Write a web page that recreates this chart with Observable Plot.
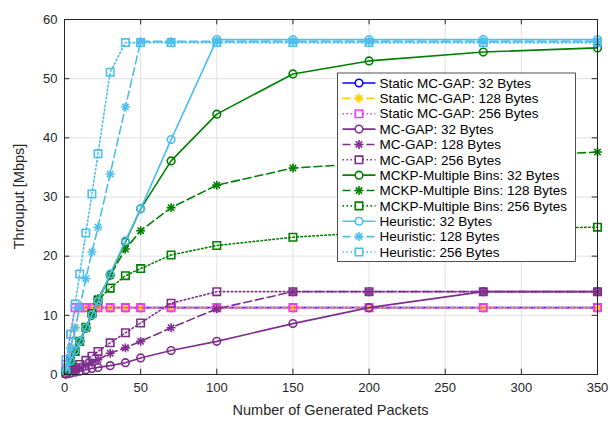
<!DOCTYPE html>
<html>
<head>
<meta charset="utf-8">
<script src="https://cdn.jsdelivr.net/npm/d3@7"></script>
<script src="https://cdn.jsdelivr.net/npm/@observablehq/plot@0.6"></script>
<style>
  html, body { margin: 0; padding: 0; background: white; }
  #chart { width: 610px; height: 421px; }
</style>
</head>
<body>
<div id="chart"></div>
<script>
// ---- data ----
const xs = [1, 4, 7, 10, 14, 18, 22, 30, 40, 50, 70, 100, 150, 200, 275, 350];
const xTicks = [0, 50, 100, 150, 200, 250, 300, 350];
const yTicks = [0, 10, 20, 30, 40, 50, 60];
const xLabel = "Number of Generated Packets";
const yLabel = "Throuput [Mbps]";

const staticMcgap32  = [0.56, 2.3, 4.0, 5.6, 7.9, 10.1, 11.3, 11.3, 11.3, 11.3, 11.3, 11.3, 11.3, 11.3, 11.3, 11.3];
const staticMcgap128 = [1.1, 4.5, 7.9, 11.3, 11.3, 11.3, 11.3, 11.3, 11.3, 11.3, 11.3, 11.3, 11.3, 11.3, 11.3, 11.3];
const staticMcgap256 = [1.7, 6.8, 11.3, 11.3, 11.3, 11.3, 11.3, 11.3, 11.3, 11.3, 11.3, 11.3, 11.3, 11.3, 11.3, 11.3];
const mcgap32  = [0.06, 0.22, 0.39, 0.56, 0.79, 1.0, 1.2, 1.5, 2.0, 2.8, 4.05, 5.6, 8.6, 11.3, 14.0, 14.0];
const mcgap128 = [0.11, 0.45, 0.79, 1.1, 1.6, 2.0, 2.5, 3.6, 4.5, 5.6, 7.9, 11.1, 14.0, 14.0, 14.0, 14.0];
const mcgap256 = [0.17, 0.7, 1.2, 1.7, 2.4, 3.1, 3.9, 5.35, 7.05, 8.7, 12.05, 14.0, 14.0, 14.0, 14.0, 14.0];
const mckp32  = [0.56, 2.2, 3.9, 5.6, 7.8, 10.0, 12.3, 16.8, 22.4, 28.0, 36.1, 44.0, 50.8, 53.0, 54.5, 55.2];
const mckp128 = [0.56, 2.2, 3.9, 5.6, 7.9, 10.1, 12.8, 16.7, 21.2, 24.3, 28.2, 32.0, 34.9, 35.7, 36.6, 37.6];
const mckp256 = [0.56, 2.2, 3.9, 5.6, 8.0, 10.3, 12.6, 14.6, 16.7, 17.9, 20.2, 21.8, 23.2, 24.0, 24.6, 24.9];
const heur32  = [0.56, 2.3, 4.0, 5.6, 7.9, 10.1, 12.4, 17.0, 22.6, 28.0, 39.7, 56.6, 56.6, 56.6, 56.6, 56.6];
const heur128 = [1.1, 4.5, 7.9, 11.3, 16.2, 20.7, 24.9, 33.9, 45.2, 56.3, 56.3, 56.3, 56.3, 56.3, 56.3, 56.3];
const heur256 = [2.5, 6.8, 11.9, 17.0, 23.9, 30.5, 37.3, 51.1, 56.1, 56.1, 56.1, 56.1, 56.1, 56.1, 56.1, 56.1];

const seriesNames = [
  "Static MC-GAP: 32 Bytes", "Static MC-GAP: 128 Bytes", "Static MC-GAP: 256 Bytes",
  "MC-GAP: 32 Bytes", "MC-GAP: 128 Bytes", "MC-GAP: 256 Bytes",
  "MCKP-Multiple Bins: 32 Bytes", "MCKP-Multiple Bins: 128 Bytes", "MCKP-Multiple Bins: 256 Bytes",
  "Heuristic: 32 Bytes", "Heuristic: 128 Bytes", "Heuristic: 256 Bytes"
];
const seriesValues = [staticMcgap32, staticMcgap128, staticMcgap256, mcgap32, mcgap128, mcgap256,
  mckp32, mckp128, mckp256, heur32, heur128, heur256];

// ---- styles ----
const groupColors = ["#0000ff", "#ffd000", "#ff33ff", "#7e2f8e", "#7e2f8e", "#7e2f8e",
  "#008000", "#008000", "#008000", "#4dbeee", "#4dbeee", "#4dbeee"];
const dashes = ["none", "8,4", "1.5,2.5"];
const markerKinds = ["circle", "star", "square"];

const series = seriesNames.map((name, i) => ({
  name,
  color: groupColors[i],
  dash: dashes[i % 3],
  marker: markerKinds[i % 3],
  rows: xs.map((x, j) => ({x, y: seriesValues[i][j]}))
}));

const marks = [
  Plot.gridX(xTicks, {stroke: "#e2e2e2", strokeOpacity: 1}),
  Plot.gridY(yTicks, {stroke: "#e2e2e2", strokeOpacity: 1}),
  Plot.axisX(xTicks, {tickSize: 0, tickPadding: 8, fontSize: 13, label: null}),
  Plot.axisY(yTicks, {tickSize: 0, tickPadding: 7, fontSize: 13, label: null}),
  // inward ticks (MATLAB box style)
  Plot.ruleX(xTicks, {x: d => d, y1: 0, y2: 0.9, stroke: "#262626"}),
  Plot.ruleX(xTicks, {x: d => d, y1: 60, y2: 59.1, stroke: "#262626"}),
  Plot.ruleY(yTicks, {y: d => d, x1: 0, x2: 3.5, stroke: "#262626"}),
  Plot.ruleY(yTicks, {y: d => d, x1: 350, x2: 346.5, stroke: "#262626"})
];

for (const s of series) {
  marks.push(Plot.line(s.rows, {x: "x", y: "y", stroke: s.color, strokeWidth: 1.6,
    strokeDasharray: s.dash === "none" ? null : s.dash}));
  if (s.marker === "circle") {
    marks.push(Plot.dot(s.rows, {x: "x", y: "y", r: 3.8, symbol: "circle", stroke: s.color, strokeWidth: 1.6, fill: "none"}));
  } else if (s.marker === "square") {
    marks.push(Plot.dot(s.rows, {x: "x", y: "y", r: 4.2, symbol: "square", stroke: s.color, strokeWidth: 1.6, fill: "none"}));
  } else {
    marks.push(Plot.dot(s.rows, {x: "x", y: "y", r: 3, symbol: "plus", stroke: s.color, strokeWidth: 1.6}));
    marks.push(Plot.dot(s.rows, {x: "x", y: "y", r: 3, symbol: "times", stroke: s.color, strokeWidth: 1.6}));
  }
}
marks.push(Plot.frame({stroke: "#262626", strokeWidth: 1}));

const chart = Plot.plot({
  width: 610, height: 421,
  marginLeft: 64, marginRight: 13, marginTop: 19, marginBottom: 47,
  x: {domain: [0, 350]},
  y: {domain: [0, 60]},
  style: {fontFamily: "'Liberation Sans', Arial, sans-serif", fontSize: "13px", color: "#262626", background: "white", overflow: "visible"},
  marks
});
document.getElementById("chart").appendChild(chart);

const svg = d3.select(chart);

// ---- axis titles ----
svg.append("text").attr("x", 330.5).attr("y", 410).attr("dy", "0.35em")
  .attr("text-anchor", "middle").attr("font-size", 14.5).attr("fill", "#262626").text(xLabel);
svg.append("text").attr("transform", "translate(19,196.5) rotate(-90)").attr("dy", "0.35em")
  .attr("text-anchor", "middle").attr("font-size", 14.5).attr("fill", "#262626").text(yLabel);

// ---- legend (inside the axes, top right) ----
const lg = svg.append("g").attr("class", "legend").attr("text-anchor", "start");
const lx = 337.5, ly = 73, lw = 238, rowH = 15.36;
lg.append("rect").attr("x", lx).attr("y", ly).attr("width", lw).attr("height", 188.5)
  .attr("fill", "white").attr("stroke", "#262626").attr("stroke-width", 0.8);
series.forEach((s, i) => {
  const cy = ly + 10 + i * rowH;
  lg.append("line").attr("x1", lx + 5).attr("x2", lx + 38).attr("y1", cy).attr("y2", cy)
    .attr("stroke", s.color).attr("stroke-width", 1.6)
    .attr("stroke-dasharray", s.dash === "none" ? null : s.dash);
  const mx = lx + 21.5;
  const g = lg.append("g").attr("transform", `translate(${mx},${cy})`)
    .attr("stroke", s.color).attr("stroke-width", 1.6).attr("fill", "white");
  if (s.marker === "circle") {
    g.append("circle").attr("r", 3.8);
  } else if (s.marker === "square") {
    g.append("path").attr("d", d3.symbol(d3.symbolSquare, Math.PI * 4.2 * 4.2)());
  } else {
    g.append("path").attr("d", d3.symbol(d3.symbolPlus, Math.PI * 9)()).attr("fill", "none");
    g.append("path").attr("d", d3.symbol(d3.symbolTimes, Math.PI * 9)()).attr("fill", "none");
  }
  lg.append("text").attr("x", lx + 42).attr("y", cy).attr("dy", "0.35em")
    .attr("text-anchor", "start")
    .attr("font-size", 13.5).attr("fill", "#000").text(s.name);
});
</script>
</body>
</html>
